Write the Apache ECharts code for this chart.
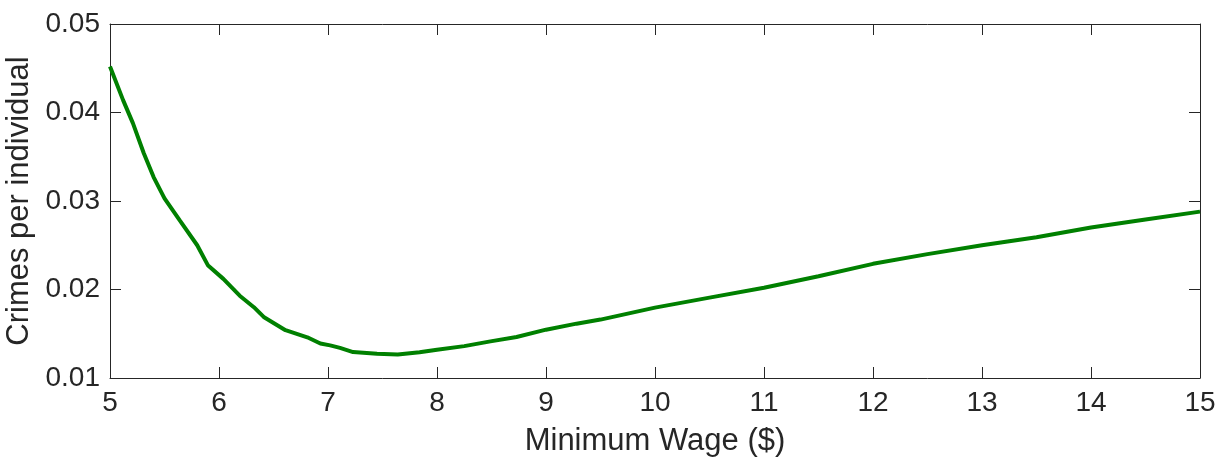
<!DOCTYPE html>
<html>
<head>
<meta charset="utf-8">
<script src="https://cdn.jsdelivr.net/npm/echarts@6/dist/echarts.min.js"></script>
<style>html,body{margin:0;padding:0;background:#fff;}#c{width:1218px;height:457px;}</style>
</head>
<body>
<div id="c"></div>
<script>
var wage = [5.0, 5.12, 5.21, 5.31, 5.40, 5.50, 5.64, 5.80, 5.90, 6.04, 6.19, 6.32, 6.41, 6.61, 6.81, 6.93, 7.02, 7.11, 7.23, 7.45, 7.64, 7.84, 8.0, 8.25, 8.49, 8.73, 9.0, 9.28, 9.5, 10.0, 10.5, 11.0, 11.5, 12.0, 12.5, 13.0, 13.5, 14.0, 14.5, 15.0];
var crimes = [0.0452, 0.0414, 0.0388, 0.0354, 0.0327, 0.0303, 0.0278, 0.0250, 0.0227, 0.0212, 0.0193, 0.0180, 0.0169, 0.0154, 0.0146, 0.0139, 0.01369, 0.0134, 0.01293, 0.01275, 0.01265, 0.0129, 0.0132, 0.0136, 0.01414, 0.01463, 0.01546, 0.01614, 0.0166, 0.01795, 0.01908, 0.0202, 0.0215, 0.0229, 0.0240, 0.0250, 0.0259, 0.0270, 0.0279, 0.0288];
var xTicks = [5, 6, 7, 8, 9, 10, 11, 12, 13, 14, 15];
var yTicks = ['0.01', '0.02', '0.03', '0.04', '0.05'];

var pts = wage.map(function (w, i) { return [w, crimes[i]]; });
var axisCol = '#262626';
var font = 'Liberation Sans, Arial, Helvetica, sans-serif';
var chart = echarts.init(document.getElementById('c'));
var xBase = {
  type: 'value', min: xTicks[0], max: xTicks[xTicks.length - 1], interval: 1,
  axisLine: { show: true, onZero: false, lineStyle: { color: axisCol, width: 1 } },
  axisTick: { show: true, inside: true, length: 11, lineStyle: { color: axisCol } },
  splitLine: { show: false }
};
var yBase = {
  type: 'value', min: 0.01, max: 0.05, interval: 0.01,
  axisLine: { show: true, onZero: false, lineStyle: { color: axisCol, width: 1 } },
  axisTick: { show: true, inside: true, length: 11, lineStyle: { color: axisCol } },
  splitLine: { show: false }
};
chart.setOption({
  animation: false,
  backgroundColor: '#fff',
  grid: { left: 110, right: 18, top: 24, bottom: 79, containLabel: false, outerBoundsMode: 'none' },
  xAxis: [
    Object.assign({}, xBase, {
      position: 'bottom',
      name: 'Minimum Wage ($)', nameLocation: 'middle', nameGap: 48,
      nameTextStyle: { color: axisCol, fontSize: 31, fontFamily: font },
      axisLabel: { color: axisCol, fontSize: 28, fontFamily: font, margin: 11,
        formatter: function (v) { return xTicks.indexOf(v) >= 0 ? String(v) : ''; } }
    }),
    Object.assign({}, xBase, { position: 'top', axisLabel: { show: false } })
  ],
  yAxis: [
    Object.assign({}, yBase, {
      position: 'left',
      name: 'Crimes per individual', nameLocation: 'middle', nameGap: 69, nameRotate: 90,
      nameTextStyle: { color: axisCol, fontSize: 31, fontFamily: font },
      axisLabel: { color: axisCol, fontSize: 28, fontFamily: font, margin: 10,
        formatter: function (v) { var s = v.toFixed(2); return yTicks.indexOf(s) >= 0 ? s : ''; } }
    }),
    Object.assign({}, yBase, { position: 'right', axisLabel: { show: false } })
  ],
  series: [{
    type: 'line', data: pts, xAxisIndex: 0, yAxisIndex: 0,
    showSymbol: false, smooth: false,
    lineStyle: { color: '#008000', width: 4 }
  }]
});
</script>
</body>
</html>
